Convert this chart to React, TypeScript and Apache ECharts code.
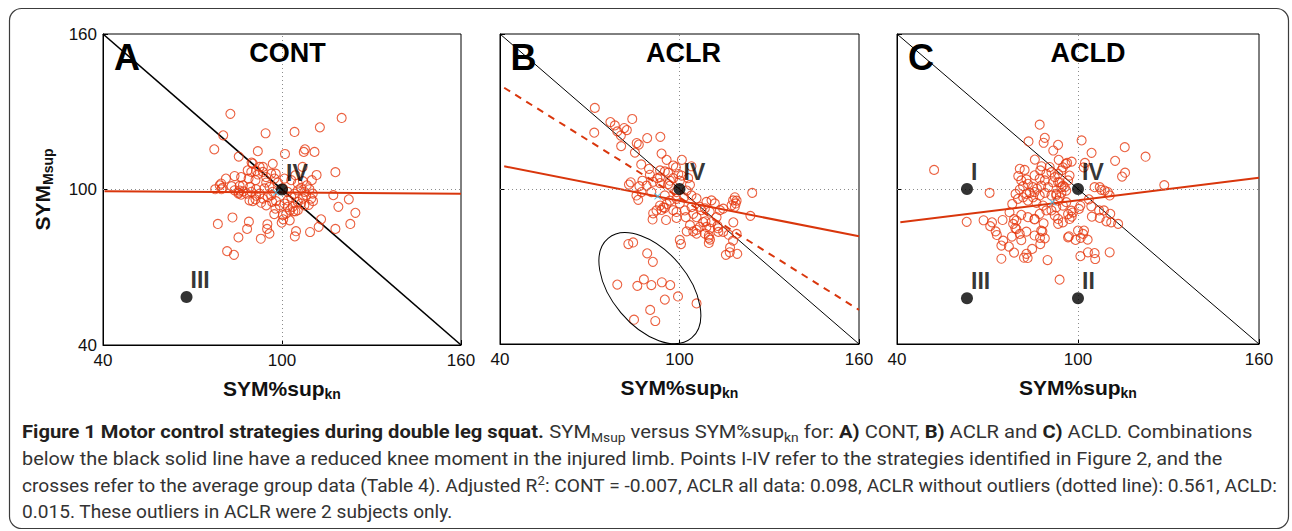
import React, { useEffect, useRef } from 'react';
import * as echarts from 'echarts';

// ---------- data ----------
const axisTicks = [40, 100, 160];
const panelTitles = ['CONT', 'ACLR', 'ACLD'];
const panelLetters = ['A', 'B', 'C'];

const contPoints: number[][] = [
  [82.7,129.2],[120.0,127.6],[112.7,124.0],[94.5,121.7],[104.2,122.2],[80.3,120.9],[77.3,115.5],[107.7,115.5],[110.9,114.5],[107.3,114.5],
  [91.9,114.8],[101.0,113.7],[85.5,112.7],[96.9,109.9],[117.9,106.7],[111.6,105.6],[88.5,107.4],[89.8,110.4],[93.6,108.7],[91.3,107.2],
  [84.1,105.2],[81.2,104.2],[97.9,106.1],[110.0,103.6],[106.9,108.7],[79.1,101.6],[83.1,101.3],[77.6,100.1],[79.7,100.1],[89.3,101.0],
  [85.8,99.6],[85.4,98.4],[117.2,97.8],[122.4,96.2],[118.9,93.3],[124.6,91.0],[110.4,95.5],[109.0,94.1],[78.5,86.7],[83.4,89.2],
  [88.9,87.6],[88.3,84.8],[95.1,86.6],[95.8,83.0],[95.0,84.8],[85.4,81.5],[92.9,81.0],[97.4,90.5],[100.4,88.5],[99.9,87.2],
  [102.6,88.1],[104.7,83.9],[104.3,81.9],[109.4,83.6],[113.1,88.5],[112.3,85.6],[117.9,84.8],[122.9,86.7],[81.6,76.2],[83.9,74.8],
  [103.8,91.6],[105.3,92.0],[101.9,93.3],
  [79.6,102.3],[80.0,100.6],[85.8,101.4],[85.5,98.8],[86.3,98.0],[88.2,98.4],[89.7,99.1],[91.3,100.1],[92.5,98.4],[94.1,100.4],
  [94.7,102.7],[95.8,101.0],[96.4,97.8],[95.2,97.1],[93.6,96.5],[91.1,96.2],[89.1,95.8],[90.2,95.5],[93.0,94.9],[94.7,93.9],
  [96.7,95.2],[98.0,95.5],[97.8,92.6],[99.2,93.9],[100.8,94.6],[101.9,95.8],[103.1,97.1],[104.2,98.4],[105.3,99.7],[106.4,100.6],
  [107.5,99.1],[108.1,97.8],[107.0,96.5],[105.3,95.2],[103.6,93.3],[104.5,91.6],[102.7,92.0],[101.4,90.7],[100.3,90.1],[105.3,102.3],
  [107.0,103.2],[108.3,101.6],[109.2,100.1],[110.3,98.4],[104.5,105.5],[103.1,103.6],[100.8,104.2],[98.6,102.7],[97.5,104.2],[96.4,106.1],
  [94.7,104.8],[93.6,106.8],[91.9,105.8],[89.7,106.8],[90.2,110.0],[92.5,108.7],[87.1,99.3],[91.1,103.6],[88.8,104.2],[86.9,101.6],
  [84.1,99.7],[86.3,104.8],[91.3,97.6],[100.3,100.4],[96.9,99.1],[101.9,99.1],[106.4,94.6],[107.5,93.9],[109.8,96.5]
];

const aclrPoints: number[][] = [
  [82.9,78.7],[84.5,79.3],[89.2,75.1],[91.1,71.8],[79.2,63.0],[85.9,62.5],[88.1,65.0],[90.6,62.8],[94.1,63.9],[96.9,62.8],
  [95.1,57.2],[99.5,58.4],[105.7,55.7],[90.2,53.2],[84.8,49.4],[91.9,48.9],
  [71.7,131.4],[76.9,125.9],[78.4,124.6],[84.2,127.1],[81.5,123.6],[82.4,122.8],[79.2,122.3],[71.5,121.8],[80.5,116.6],[85.7,117.8],
  [86.4,117.2],[89.2,119.7],[93.6,120.2],[85.1,114.1],[94.0,113.7],[87.2,109.5],[95.7,111.3],[100.8,111.3],[83.7,102.6],[83.1,101.7],
  [86.2,95.8],[86.6,101.1],[124.3,98.5],[118.5,96.8],[119.1,95.5],[123.7,89.6],[118.0,87.1],[119.1,82.6],[115.5,74.5],[116.9,77.4],
  [119.3,74.9],[100.1,80.3],[100.5,78.7],[91.0,88.2],[95.5,88.0],[105.7,84.2],[109.8,82.0],[109.8,81.1],[112.9,84.8],[112.7,85.7],
  [103.5,86.0],[108.7,87.5],[99.0,88.8],[102.1,89.1],[94.0,91.9],[95.1,92.7],[91.2,90.6],[80.4,120.7],
  [97.9,109.1],[98.8,108.4],[104.0,108.8],[93.5,107.2],[95.1,106.8],[96.2,106.3],[92.6,104.2],[90.1,105.5],[89.0,101.3],[91.2,102.8],
  [93.5,102.3],[96.2,101.9],[97.9,104.2],[99.6,105.8],[100.1,103.2],[100.7,105.2],[102.9,104.2],[103.5,101.6],[102.4,99.4],[104.0,97.5],
  [101.5,96.8],[99.0,96.2],[96.8,95.5],[95.1,97.5],[95.7,94.2],[93.5,93.6],[94.6,92.9],[92.3,91.7],[99.0,91.1],[101.8,91.7],
  [104.0,93.0],[104.6,90.4],[105.7,89.1],[106.8,93.1],[108.5,92.5],[109.0,95.0],[110.7,95.6],[111.8,94.4],[113.5,91.8],[114.6,92.4],
  [112.4,89.1],[110.7,87.2],[109.0,85.3],[106.8,85.3],[105.7,82.7],[108.5,82.7],[110.2,84.7],[113.0,83.4],[117.9,95.6],[118.8,94.4],
  [118.5,93.1],[117.4,93.7],[110.2,80.4],[109.8,79.1],[116.4,82.3],[117.9,80.0],[116.8,75.5],[87.3,98.8],[90.6,98.8],[85.6,97.5],
  [87.6,103.2],[89.8,107.8],[93.5,104.6],[96.8,101.3],[99.0,98.8],[97.9,91.8],[100.1,94.4],[105.7,96.4],[107.3,91.8],[110.1,91.2],
  [114.6,83.4],[102.4,83.6],[104.6,83.6],[107.9,87.2],[96.8,103.2]
];

const acldPoints: number[][] = [
  [52.3,107.4],[87.3,124.9],[89.0,119.8],[88.6,117.9],[83.6,118.4],[93.4,117.1],[91.8,114.9],[101.2,118.8],[104.5,114.0],[115.5,116.2],
  [122.4,112.5],[112.3,110.9],[102.3,110.1],[97.9,110.6],[95.9,109.7],[96.4,110.1],[93.6,111.3],[85.7,111.4],[87.9,108.8],[115.6,106.3],
  [114.6,104.8],[128.6,101.5],[70.7,98.5],[63.1,87.3],[68.7,87.9],[71.5,87.1],[70.9,85.6],[72.7,83.6],[73.1,82.2],[75.0,88.0],
  [75.2,80.0],[77.1,77.7],[78.8,75.4],[74.6,73.0],[78.1,81.6],[81.2,80.2],[79.2,84.9],[78.8,88.3],[82.1,73.4],[82.9,74.9],
  [83.3,73.3],[84.8,76.8],[89.9,72.5],[87.4,81.1],[88.2,83.6],[88.6,86.7],[85.6,88.2],[93.9,64.9],[100.8,74.0],[103.3,75.5],
  [105.5,75.2],[105.7,72.9],[110.5,75.5],[100.9,81.1],[103.2,80.4],[100.0,83.9],[102.0,83.9],[101.7,82.6],[97.0,81.7],[96.7,81.3],
  [99.2,80.3],[97.9,89.3],[98.3,90.9],[97.2,88.4],[100.8,93.5],[100.3,92.3],[104.6,89.3],[107.2,88.8],[109.4,87.5],[111.0,87.1],
  [113.3,86.5],[110.7,90.4],[108.6,91.7],[107.0,91.7],[107.2,100.7],[107.7,99.7],[108.8,99.4],[109.9,98.8],[110.5,97.5],[105.5,100.7],
  [103.6,96.0],[101.9,108.4],
  [80.7,107.8],[82.3,107.4],[80.2,105.0],[81.2,103.3],[81.8,101.1],[80.7,99.8],[79.3,98.1],[78.2,94.2],[80.1,96.2],[81.8,96.8],
  [82.9,98.1],[84.0,98.5],[85.6,98.8],[86.4,100.1],[85.1,100.7],[83.4,102.0],[82.9,103.7],[85.6,105.3],[87.5,107.2],[87.3,104.0],
  [89.0,103.3],[89.5,105.9],[91.2,106.5],[92.3,104.6],[93.4,105.9],[94.5,107.2],[90.6,108.5],[87.8,101.3],[90.1,100.7],[91.7,102.6],
  [93.9,102.6],[95.0,101.3],[96.1,99.4],[94.5,98.5],[92.8,98.1],[91.2,97.5],[89.0,98.5],[87.3,97.5],[85.1,96.8],[83.4,95.5],
  [86.2,94.6],[88.4,93.6],[89.5,91.7],[87.3,90.4],[85.6,88.4],[83.4,89.1],[81.2,90.0],[79.6,87.8],[78.5,86.5],[79.6,84.5],
  [80.7,82.6],[82.9,83.5],[85.6,82.0],[87.8,83.9],[89.0,80.9],[87.5,78.7],[77.3,91.0],[74.6,78.1],[92.3,89.7],[93.4,88.4],
  [93.4,86.5],[95.0,87.1],[96.7,90.3],[97.8,91.6],[96.1,94.9],[95.0,93.6],[92.8,92.9],[91.2,91.7],[93.9,96.8],[104.4,93.3],
  [96.7,103.3],[97.2,105.2],[95.0,108.4],[93.4,102.6],[94.5,100.7],[95.6,100.7],[92.8,97.5],[93.4,95.5]
];

// strategy points I-IV
const contStrategyPts: number[][] = [[100, 100], [68, 58.5]];
const contStrategyNames = ['IV', 'III'];
const aclrStrategyPts: number[][] = [[100, 100]];
const aclrStrategyNames = ['IV'];
const acldStrategyPts: number[][] = [[63.2, 100], [100, 57.7], [63.2, 57.7], [100, 100]];
const acldStrategyNames = ['I', 'II', 'III', 'IV'];

// group means (crosses)
const contMean = [98.0, 98.8];
const aclrMean = [92.7, 97.2];
const acldMean = [91.5, 94.9];

// regression lines (end points)
const identityLine: number[][] = [[40, 160], [160, 40]];
const contFit: number[][] = [[40.5, 99.3], [160, 98.4]];
const aclrFitAll: number[][] = [[41.4, 108.8], [160, 81.7]];
const aclrFitNoOutliers: number[][] = [[41.4, 139.2], [160, 53.2]];
const acldFit: number[][] = [[41.1, 87.1], [160, 104.4]];

// outlier ellipse in ACLR (centre in data units)
const outlierCentre = [90.1, 61.6];

// ---------- styling ----------
const FONT = 'Liberation Sans, Arial, Helvetica, sans-serif';
const CAP_FONT = 'Roboto, Noto Sans, sans-serif';
const RED = '#e6380f';
const FIT_RED = '#d9360c';
const CYAN = '#35b8e6';

const grids = [
  { left: 103, top: 34, width: 358, height: 311 },
  { left: 500, top: 34, width: 359, height: 310 },
  { left: 897, top: 34, width: 362, height: 310 },
];

const CROSS = 'path://M1,0L5,4L9,0L10,1L6,5L10,9L9,10L5,6L1,10L0,9L4,5L0,1Z';

function measure(ctx: CanvasRenderingContext2D, text: string, font: string) {
  ctx.font = font;
  return ctx.measureText(text).width;
}

export default function App() {
  const ref = useRef<HTMLDivElement>(null);
  useEffect(() => {
    if (!ref.current) return;
    const chart = echarts.init(ref.current, undefined, { renderer: 'svg' });

    const xAxes: any[] = [];
    const yAxes: any[] = [];
    const series: any[] = [];
    const panels = [
      { pts: contPoints, sp: contStrategyPts, sn: contStrategyNames, mean: contMean, fits: [contFit], dashed: null as any, iw: 1.6 },
      { pts: aclrPoints, sp: aclrStrategyPts, sn: aclrStrategyNames, mean: aclrMean, fits: [aclrFitAll], dashed: aclrFitNoOutliers, iw: 1 },
      { pts: acldPoints, sp: acldStrategyPts, sn: acldStrategyNames, mean: acldMean, fits: [acldFit], dashed: null as any, iw: 1 },
    ];

    panels.forEach((p, i) => {
      xAxes.push({
        gridIndex: i, type: 'value', min: axisTicks[0], max: axisTicks[2], interval: axisTicks[1] - axisTicks[0],
        axisLine: { show: true, onZero: false, lineStyle: { color: '#000', width: 1 } },
        axisTick: { show: true, inside: true, length: 5, lineStyle: { color: '#000' } },
        splitLine: { show: false },
        axisLabel: { show: true, margin: 7, fontSize: 17, color: '#111', fontFamily: FONT, showMinLabel: true, showMaxLabel: true },
        name: 'SYM%sup{s|kn}', nameLocation: 'middle', nameGap: 30,
        nameTextStyle: {
          fontFamily: FONT, fontWeight: 'bold', fontSize: 21, color: '#111', lineHeight: 26,
          rich: { s: { fontFamily: FONT, fontWeight: 'bold', fontSize: 14, color: '#111', lineHeight: 14, verticalAlign: 'bottom' } },
        },
      });
      yAxes.push({
        gridIndex: i, type: 'value', min: axisTicks[0], max: axisTicks[2], interval: axisTicks[1] - axisTicks[0],
        axisLine: { show: true, onZero: false, lineStyle: { color: '#000', width: 1 } },
        axisTick: { show: true, inside: true, length: 5, lineStyle: { color: '#000' } },
        splitLine: { show: false },
        axisLabel: { show: i === 0, margin: 6, fontSize: 17, color: '#111', fontFamily: FONT, showMinLabel: true, showMaxLabel: true },
        name: i === 0 ? 'SYM{s|Msup}' : '', nameLocation: 'middle', nameGap: 48, nameRotate: 90,
        nameTextStyle: {
          fontFamily: FONT, fontWeight: 'bold', fontSize: 21, color: '#111', lineHeight: 26,
          rich: { s: { fontFamily: FONT, fontWeight: 'bold', fontSize: 14, color: '#111', lineHeight: 14, verticalAlign: 'bottom' } },
        },
      });

      series.push({
        type: 'line', xAxisIndex: i, yAxisIndex: i, data: identityLine, symbol: 'none', silent: true,
        lineStyle: { color: '#000', width: p.iw }, z: 2,
        markLine: {
          silent: true, symbol: ['none', 'none'], label: { show: false },
          lineStyle: { color: '#8c8c8c', type: [1, 3], width: 1 },
          data: [{ xAxis: 100 }, { yAxis: 100 }],
        },
      });
      p.fits.forEach((f) => {
        series.push({
          type: 'line', xAxisIndex: i, yAxisIndex: i, data: f, symbol: 'none', silent: true,
          lineStyle: { color: FIT_RED, width: 2 }, z: 3,
        });
      });
      if (p.dashed) {
        series.push({
          type: 'line', xAxisIndex: i, yAxisIndex: i, data: p.dashed, symbol: 'none', silent: true,
          lineStyle: { color: FIT_RED, width: 2, type: [7, 6] }, z: 3,
        });
      }
      series.push({
        type: 'scatter', xAxisIndex: i, yAxisIndex: i, data: p.pts, symbol: 'circle', symbolSize: 9,
        itemStyle: { color: 'rgba(255,255,255,0)', borderColor: RED, borderWidth: 1.1 }, z: 4,
      });
      series.push({
        type: 'scatter', xAxisIndex: i, yAxisIndex: i, symbol: 'circle', symbolSize: 12, z: 6,
        itemStyle: { color: '#000' },
        data: p.sp.map((v, k) => ({ name: p.sn[k], value: v })),
        label: {
          show: true, formatter: '{b}', position: 'right', distance: 0, offset: [-2, -17],
          fontFamily: FONT, fontWeight: 'bold', fontSize: 23, color: '#000',
        },
      });
      series.push({
        type: 'scatter', xAxisIndex: i, yAxisIndex: i, symbol: CROSS, symbolSize: 7, z: 7,
        itemStyle: { color: CYAN }, data: [p.mean],
      });
    });

    chart.setOption({
      animation: false,
      backgroundColor: '#fff',
      grid: grids.map((g) => ({ ...g, show: true, borderColor: '#000', borderWidth: 1, backgroundColor: 'rgba(0,0,0,0)' })),
      xAxis: xAxes,
      yAxis: yAxes,
      series,
    });

    // caption measurement
    const ctx = document.createElement('canvas').getContext('2d') as CanvasRenderingContext2D;
    const FS = 19;
    const SUB = 13;
    const fb = `bold ${FS}px ${CAP_FONT}`;
    const fn = `${FS}px ${CAP_FONT}`;
    const fs = `${SUB}px ${CAP_FONT}`;
    const line1: [string, string][] = [
      ['b', 'Figure 1 Motor control strategies during double leg squat.'], ['n', ' SYM'], ['s', 'Msup'],
      ['n', ' versus SYM%sup'], ['s', 'kn'], ['n', ' for: '], ['b', 'A)'], ['n', ' CONT, '], ['b', 'B)'],
      ['n', ' ACLR and '], ['b', 'C)'], ['n', ' ACLD. Combinations'],
    ];
    const line2: [string, string][] = [
      ['n', 'below the black solid line have a reduced knee moment in the injured limb. Points I-IV refer to the strategies identified in Figure 2, and the'],
    ];
    const line3: [string, string][] = [
      ['n', 'crosses refer to the average group data (Table 4). Adjusted R'], ['p', '2'],
      ['n', ': CONT = -0.007, ACLR all data: 0.098, ACLR without outliers (dotted line): 0.561, ACLD:'],
    ];
    const line4: [string, string][] = [['n', '0.015. These outliers in ACLR were 2 subjects only.']];
    const widthOf = (segs: [string, string][]) =>
      segs.reduce((acc, [k, t]) => acc + measure(ctx, t, k === 'b' ? fb : k === 'n' ? fn : fs), 0);
    const capLines = [line1, line2, line3, line4];
    const capTargets = [1230, 1200, 1255, 431];
    const capY = [432, 459, 486, 512];
    const rich = {
      b: { fontFamily: CAP_FONT, fontWeight: 'bold', fontSize: FS, fill: '#231f20', lineHeight: 24 },
      n: { fontFamily: CAP_FONT, fontSize: FS, fill: '#333', lineHeight: 24 },
      s: { fontFamily: CAP_FONT, fontSize: SUB, fill: '#333', lineHeight: 14, verticalAlign: 'bottom' },
      p: { fontFamily: CAP_FONT, fontSize: SUB, fill: '#333', lineHeight: 14, verticalAlign: 'top' },
    };
    const toRich = (segs: [string, string][]) => segs.map(([k, t]) => `{${k}|${t}}`).join('');

    const c = chart.convertToPixel({ xAxisIndex: 1, yAxisIndex: 1 } as any, outlierCentre) as number[];

    const graphic: any[] = [
      {
        type: 'rect', silent: true, z: 0,
        shape: { x: 9.5, y: 8.5, width: 1279, height: 520, r: 12 },
        style: { fill: 'none', stroke: '#3c3c3c', lineWidth: 1.2 },
      },
      {
        type: 'ellipse', silent: true, z: 5, x: c[0], y: c[1], rotation: (-50 * Math.PI) / 180,
        shape: { cx: 0, cy: 0, rx: 65, ry: 38 },
        style: { fill: 'none', stroke: '#000', lineWidth: 1 },
      },
    ];
    const letterX = [127, 523.5, 921];
    const titleX = [287.5, 683.5, 1088];
    for (let i = 0; i < 3; i++) {
      graphic.push({
        type: 'text', silent: true, z: 8, x: letterX[i], y: 57,
        style: { text: panelLetters[i], fontFamily: FONT, fontWeight: 'bold', fontSize: 36, fill: '#000', align: 'center', verticalAlign: 'middle' },
      });
      graphic.push({
        type: 'text', silent: true, z: 8, x: titleX[i], y: 53,
        style: { text: panelTitles[i], fontFamily: FONT, fontWeight: 'bold', fontSize: 27, fill: '#000', align: 'center', verticalAlign: 'middle' },
      });
    }
    capLines.forEach((segs, k) => {
      const w = widthOf(segs);
      const sx = w > 0 ? capTargets[k] / w : 1;
      graphic.push({
        type: 'text', silent: true, z: 8, x: 22, y: capY[k], scaleX: sx, scaleY: 1,
        style: { text: toRich(segs), rich, fontFamily: CAP_FONT, fontSize: FS, fill: '#333', align: 'left', verticalAlign: 'middle' },
      });
    });
    chart.setOption({ graphic });

    return () => chart.dispose();
  }, []);
  return <div ref={ref} style={{ position: 'absolute', left: 0, top: 0, width: 1292, height: 531 }} />;
}
